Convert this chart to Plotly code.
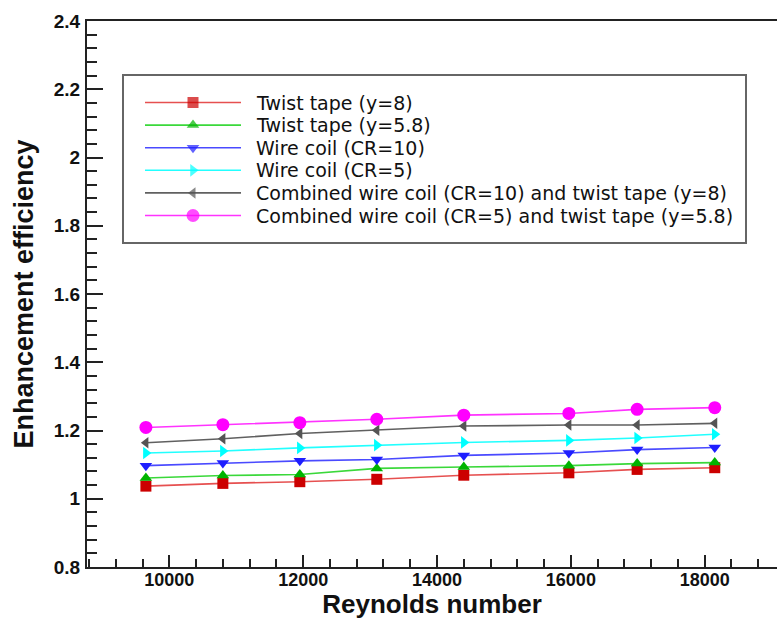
import plotly.graph_objects as go

# ---------------- data ----------------
reynolds = [9650, 10800, 11950, 13100, 14400, 15970, 16990, 18150]

twist_tape_y8 = [1.037, 1.045, 1.050, 1.057, 1.069, 1.076, 1.086, 1.091]
twist_tape_y58 = [1.061, 1.068, 1.071, 1.089, 1.093, 1.097, 1.103, 1.106]
wire_coil_cr10 = [1.097, 1.105, 1.111, 1.115, 1.127, 1.134, 1.144, 1.150]
wire_coil_cr5 = [1.134, 1.140, 1.149, 1.157, 1.165, 1.171, 1.178, 1.189]
combined_cr10_y8 = [1.164, 1.176, 1.191, 1.201, 1.213, 1.216, 1.216, 1.221]
combined_cr5_y58 = [1.209, 1.217, 1.223, 1.233, 1.245, 1.250, 1.262, 1.267]

series_names = [
    "Twist tape (y=8)",
    "Twist tape (y=5.8)",
    "Wire coil (CR=10)",
    "Wire coil (CR=5)",
    "Combined wire coil (CR=10) and twist tape (y=8)",
    "Combined wire coil (CR=5) and twist tape (y=5.8)",
]
series_values = [twist_tape_y8, twist_tape_y58, wire_coil_cr10,
                 wire_coil_cr5, combined_cr10_y8, combined_cr5_y58]

x_title = "Reynolds number"
y_title = "Enhancement efficiency"

# ---------------- styles ----------------
line_colors = ["#e65050", "#3ad83a", "#4a4aff", "#22ffff", "#606060", "#ff33ff"]
marker_colors = ["#cc0000", "#00b400", "#1e1eff", "#00ffff", "#555555", "#ff00ff"]
symbols = ["square", "triangle-up", "triangle-down", "triangle-right",
           "triangle-left", "circle"]
marker_sizes = [11, 11, 11, 11, 10, 13]

W, H = 777, 619
ML, MR, MT, MB = 87, 0, 21, 52
FONT = "Liberation Sans, Arial, Helvetica, sans-serif"
LEG_FONT = "DejaVu Sans, Verdana, sans-serif"

fig = go.Figure()

for name, vals, lc, mc, sym, ms in zip(series_names, series_values, line_colors,
                                       marker_colors, symbols, marker_sizes):
    fig.add_trace(go.Scatter(
        x=reynolds, y=vals, name=name, mode="lines+markers",
        line=dict(color=lc, width=1.6),
        marker=dict(symbol=sym, size=ms, color=mc, line=dict(width=0)),
        showlegend=False,
    ))

# ---------------- legend (drawn in a pixel-frame overlay axis) ----------------
LEG_BOX = (123, 75, 746, 243)
LEG_TOP = 102.5
LEG_STEP = 22.6
LEG_LINE = (145, 241)
LEG_TEXT_X = 254

for i, (name, lc, mc, sym, ms) in enumerate(zip(series_names, line_colors, marker_colors,
                                                symbols, marker_sizes)):
    yy = LEG_TOP + i * LEG_STEP
    xm = (LEG_LINE[0] + LEG_LINE[1]) / 2
    fig.add_trace(go.Scatter(
        x=[LEG_LINE[0], xm, LEG_LINE[1]], y=[yy, yy, yy],
        xaxis="x2", yaxis="y2", mode="lines+markers",
        line=dict(color=lc, width=1.6),
        marker=dict(symbol=sym, size=[0, ms, 0], color=mc, line=dict(width=0)),
        showlegend=False, hoverinfo="skip",
    ))
    fig.add_annotation(
        x=LEG_TEXT_X, y=yy, xref="x2", yref="y2", text=name, showarrow=False,
        xanchor="left", yanchor="middle",
        font=dict(family=LEG_FONT, size=19, color="#111111"),
    )

fig.add_shape(type="rect", xref="x2", yref="y2",
              x0=LEG_BOX[0], y0=LEG_BOX[1], x1=LEG_BOX[2], y1=LEG_BOX[3],
              line=dict(color="#666666", width=2), fillcolor="rgba(0,0,0,0)")

fig.update_layout(
    width=W, height=H,
    margin=dict(l=ML, r=MR, t=MT, b=MB, pad=0),
    paper_bgcolor="white", plot_bgcolor="white",
    showlegend=False,
    font=dict(family=FONT, color="#111111"),
    xaxis=dict(
        range=[8770, 19080], dtick=2000, tick0=0, tickformat="d",
        showgrid=False, zeroline=False,
        showline=True, linecolor="#222222", linewidth=2, mirror=True,
        ticks="inside", ticklen=12, tickwidth=2, tickcolor="#222222",
        minor=dict(dtick=400, tick0=0, ticks="inside", ticklen=8, tickwidth=1.5,
                   tickcolor="#222222", showgrid=False),
        tickfont=dict(family=FONT, size=18, weight="bold", color="#111111"),
        ticklabelstandoff=-5,
        title=dict(text=x_title, standoff=10,
                   font=dict(family=FONT, size=26, weight="bold", color="#111111")),
        automargin=False,
    ),
    yaxis=dict(
        range=[0.8, 2.4], dtick=0.2, tick0=0,
        showgrid=False, zeroline=False,
        showline=True, linecolor="#222222", linewidth=2, mirror=False,
        ticks="inside", ticklen=16, tickwidth=2, tickcolor="#222222",
        minor=dict(dtick=0.04, tick0=0, ticks="inside", ticklen=10, tickwidth=1.5,
                   tickcolor="#222222", showgrid=False),
        tickfont=dict(family=FONT, size=19, weight="bold", color="#111111"),
        ticklabelstandoff=1,
        title=dict(text=y_title, standoff=12,
                   font=dict(family=FONT, size=27, weight="bold", color="#111111")),
        automargin=False,
    ),
    xaxis2=dict(range=[ML, W - MR], overlaying="x", visible=False, fixedrange=True),
    yaxis2=dict(range=[H - MB, MT], overlaying="y", visible=False, fixedrange=True),
)

fig.write_html("out.html")
